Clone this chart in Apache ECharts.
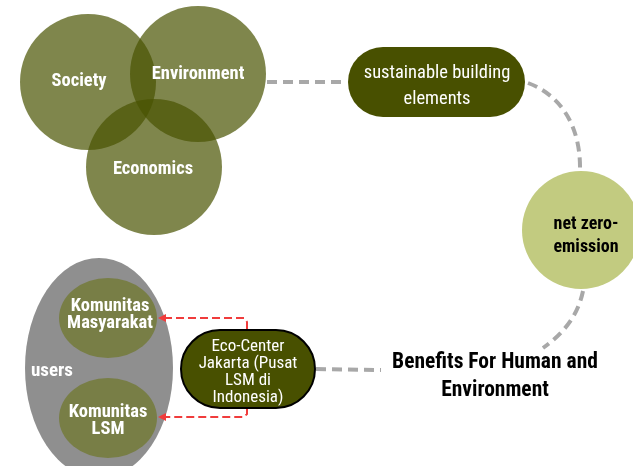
<!DOCTYPE html>
<html><head><meta charset="utf-8">
<script src="https://cdn.jsdelivr.net/npm/echarts@6/dist/echarts.min.js"></script>
<style>html,body{margin:0;padding:0;background:#fff}#c{width:633px;height:466px}</style>
</head><body><div id="c"></div>
<script>
// Diagram text content
const vennLabels = ['Society', 'Environment', 'Economics'];
const flowLabels = ['sustainable building\nelements', 'net zero-\nemission', 'Benefits For Human and\nEnvironment'];
const centerLabel = ['Eco-Center\nJakarta (Pusat\nLSM di\nIndonesia)'];
const userLabels = ['users', 'Komunitas\nMasyarakat', 'Komunitas\nLSM'];

const FF = '"Roboto Condensed","DejaVu Sans Condensed","Liberation Sans Narrow",Roboto,sans-serif';
const vennFill = 'rgba(72,82,0,0.70)';
const dark = '#485000';
const grayDash = {stroke: '#a8a8a8', lineWidth: 4, lineDash: [10, 6], fill: null};
const redDash = {stroke: '#f03c3c', lineWidth: 2, lineDash: [8, 4], fill: null};

function txt(t, x, y, font, fill, lh) {
  return {type: 'text', x: x, y: y, z: 10,
    style: {text: t, font: font, fill: fill, align: 'center', verticalAlign: 'middle',
            textAlign: 'center', textVerticalAlign: 'middle', lineHeight: lh}};
}
function ellipse(cx, cy, rx, ry, fill) {
  return {type: 'circle', x: cx, y: cy, scaleX: rx / 100, scaleY: ry / 100,
          shape: {cx: 0, cy: 0, r: 100}, style: {fill: fill}};
}

const vennPos = [[88, 82, 68], [198, 74, 68], [154, 167, 68]];
const vennText = [[79, 81], [198, 74], [153, 169]];

const els = [];
// Venn circles
vennPos.forEach(p => els.push({type: 'circle', shape: {cx: p[0], cy: p[1], r: p[2]}, style: {fill: vennFill}}));
vennLabels.forEach((l, i) => els.push(txt(l, vennText[i][0], vennText[i][1], 'bold 18.5px ' + FF, '#fff', 20)));

// connectors (gray dashed)
els.push({type: 'line', shape: {x1: 267, y1: 82, x2: 347, y2: 82}, style: grayDash});
els.push({type: 'bezierCurve', shape: {x1: 528, y1: 83, cpx1: 560, cpy1: 95, cpx2: 581, cpy2: 125, x2: 580, y2: 171}, style: grayDash});
els.push({type: 'bezierCurve', shape: {x1: 583, y1: 291, cpx1: 578, cpy1: 315, cpx2: 565, cpy2: 332, x2: 543, y2: 348}, style: grayDash});
els.push({type: 'line', shape: {x1: 316, y1: 369, x2: 381, y2: 370}, style: grayDash});

// sustainable pill
els.push({type: 'rect', shape: {x: 348, y: 47, width: 177, height: 70, r: 35}, style: {fill: dark}});
els.push(txt(flowLabels[0], 437, 86, '18.5px ' + FF, '#fff', 26));

// net zero circle
els.push({type: 'circle', shape: {cx: 581, cy: 230, r: 59}, style: {fill: '#c2cb80'}});
els.push(txt(flowLabels[1], 586, 236, 'bold 18px ' + FF, '#000', 23));

// benefits text
els.push(txt(flowLabels[2], 495, 377, 'bold 21.5px ' + FF, '#000', 28));

// users ellipse
els.push(ellipse(99, 368, 74, 110, '#8f8f8f'));
els.push(txt(userLabels[0], 52, 371, 'bold 19px ' + FF, '#fff', 18));
els.push(ellipse(108, 318, 49, 40, '#787e46'));
els.push(txt(userLabels[1], 110, 315, 'bold 18.5px ' + FF, '#fff', 17));
els.push(ellipse(108, 418, 49, 40, '#787e46'));
els.push(txt(userLabels[2], 108, 421, 'bold 18.5px ' + FF, '#fff', 17));

// red arrows
els.push({type: 'polyline', shape: {points: [[247, 329], [247, 322], [244, 318], [166, 318]]}, style: redDash});
els.push({type: 'polygon', shape: {points: [[158, 318], [166, 314], [166, 322]]}, style: {fill: '#f03c3c'}});
els.push({type: 'polyline', shape: {points: [[247, 408], [247, 414], [244, 417], [166, 417]]}, style: redDash});
els.push({type: 'polygon', shape: {points: [[158, 417], [166, 413], [166, 421]]}, style: {fill: '#f03c3c'}});

// eco-center pill
els.push({type: 'rect', shape: {x: 181, y: 330, width: 134, height: 78, r: 39}, style: {fill: dark, stroke: '#000', lineWidth: 2}, z: 5});
els.push(txt(centerLabel[0], 248, 372, '17px ' + FF, '#fff', 17));

const chart = echarts.init(document.getElementById('c'), null, {renderer: 'canvas'});
chart.setOption({animation: false, graphic: {elements: els}});
</script></body></html>
